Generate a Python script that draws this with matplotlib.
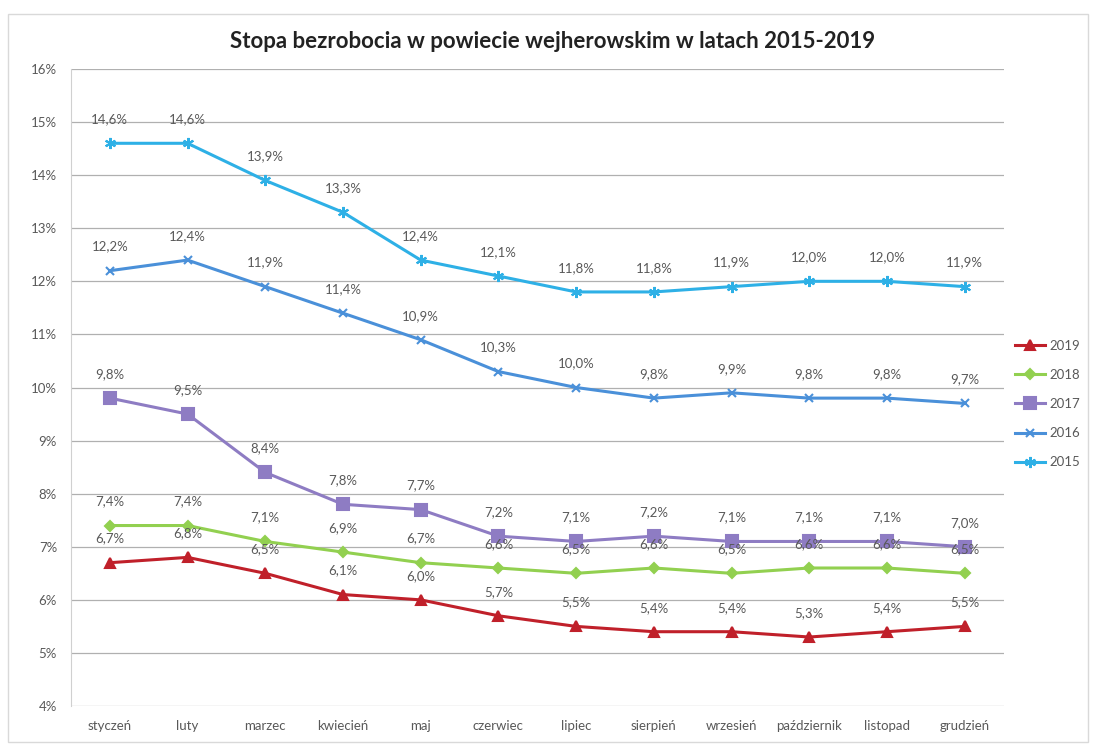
import matplotlib
matplotlib.use("Agg")
import matplotlib.pyplot as plt
from matplotlib.patches import Rectangle

plt.rcParams['font.family'] = ['Lato', 'DejaVu Sans']

months = ['styczeń', 'luty', 'marzec', 'kwiecień', 'maj', 'czerwiec', 'lipiec',
          'sierpień', 'wrzesień', 'październik', 'listopad', 'grudzień']

s2019 = [6.7, 6.8, 6.5, 6.1, 6.0, 5.7, 5.5, 5.4, 5.4, 5.3, 5.4, 5.5]
s2018 = [7.4, 7.4, 7.1, 6.9, 6.7, 6.6, 6.5, 6.6, 6.5, 6.6, 6.6, 6.5]
s2017 = [9.8, 9.5, 8.4, 7.8, 7.7, 7.2, 7.1, 7.2, 7.1, 7.1, 7.1, 7.0]
s2016 = [12.2, 12.4, 11.9, 11.4, 10.9, 10.3, 10.0, 9.8, 9.9, 9.8, 9.8, 9.7]
s2015 = [14.6, 14.6, 13.9, 13.3, 12.4, 12.1, 11.8, 11.8, 11.9, 12.0, 12.0, 11.9]

series = [
    ('2019', s2019, '#c0202a', '^', 7),
    ('2018', s2018, '#92d050', 'D', 5),
    ('2017', s2017, '#8e7cc3', 's', 8),
    ('2016', s2016, '#4a90d9', 'x', 6),
    ('2015', s2015, '#2eb0e6', (6, 2, 0), 8),
]

fig = plt.figure(figsize=(10.95, 7.48), dpi=100)
ax = fig.add_axes([0.0648, 0.0561, 0.8517, 0.8517])

x = list(range(len(months)))
for name, vals, col, mk, ms in series:
    ax.plot(x, vals, color=col, lw=2.2, marker=mk, markersize=ms,
            markeredgecolor=col, markeredgewidth=1.5, label=name)
    for xi, v in zip(x, vals):
        ax.annotate(('%.1f%%' % v).replace('.', ','), (xi, v),
                    xytext=(0, 13), textcoords='offset points',
                    ha='center', va='bottom', fontsize=9.5, color='#595959')

ax.set_xlim(-0.5, 11.5)
ax.set_ylim(4, 16)
ax.set_yticks(range(4, 17))
ax.set_yticklabels(['%d%%' % v for v in range(4, 17)], fontsize=9.5, color='#595959')
ax.set_xticks(x)
ax.set_xticklabels(months, fontsize=9.5, color='#595959')
ax.tick_params(length=0, pad=10)
ax.grid(axis='y', color='#b0b0b0', lw=0.9)
ax.set_axisbelow(True)
for sp in ['top', 'right', 'bottom']:
    ax.spines[sp].set_visible(False)
ax.spines['left'].set_color('#d0d0d0')

fig.text(0.505, 0.945, 'Stopa bezrobocia w powiecie wejherowskim w latach 2015-2019',
         ha='center', va='center', fontsize=16, fontweight='bold', color='#222222')

ax.legend(loc='center left', bbox_to_anchor=(1.005, 0.474), frameon=False,
          fontsize=9.5, labelcolor='#595959', handlelength=2.3,
          handletextpad=0.3, labelspacing=1.3, borderpad=0)

fig.patches.append(Rectangle((8 / 1095, 6 / 748), 1080 / 1095, 728 / 748,
                             transform=fig.transFigure, fill=False,
                             edgecolor='#d9d9d9', lw=1))

fig.savefig('out.png', dpi=100)
